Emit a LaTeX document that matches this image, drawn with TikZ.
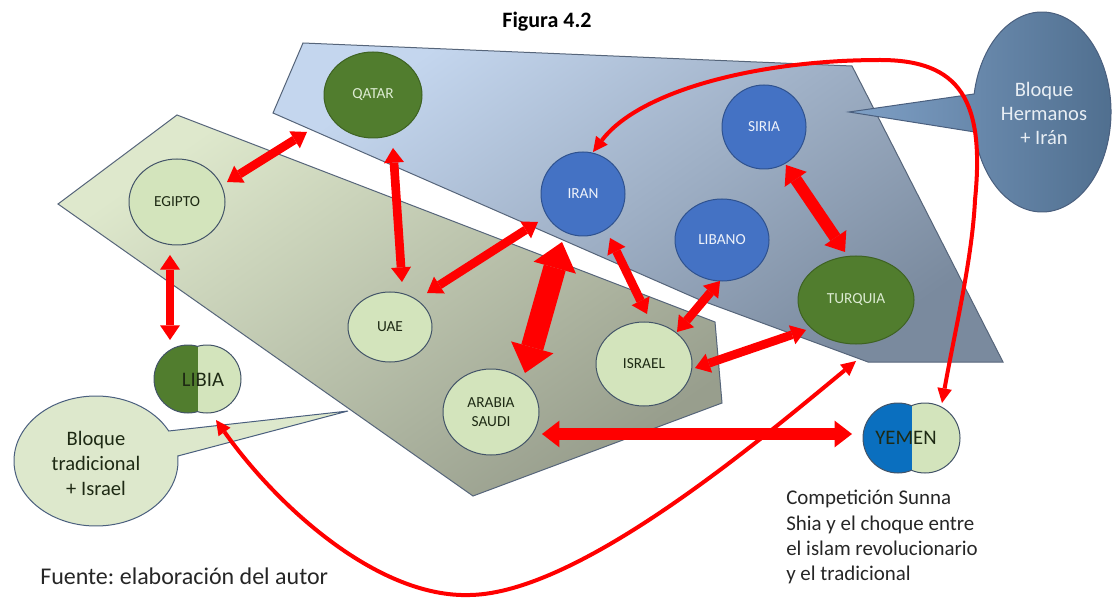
\documentclass[tikz,border=0pt]{standalone}
\usepackage{fontspec}
\setmainfont{Carlito}
\usetikzlibrary{arrows.meta,shapes.geometric}
\frenchspacing
\definecolor{dgreen}{HTML}{517D2E}
\definecolor{doutl}{HTML}{3E6222}
\definecolor{lgreen}{HTML}{D3E4BC}
\definecolor{loutl}{HTML}{435468}
\definecolor{nblue}{HTML}{4472C4}
\definecolor{boutl}{HTML}{2F528F}
\definecolor{yblue}{HTML}{0A6FBF}
\definecolor{dtext}{HTML}{1E2A14}
\definecolor{ltext}{HTML}{DCEBD2}
\definecolor{btext}{HTML}{EEF2FA}
\definecolor{arred}{HTML}{FF0000}
\definecolor{bltop}{HTML}{C4D6EE}
\definecolor{blbot}{HTML}{7A8A9E}
\definecolor{grtop}{HTML}{DEE8CC}
\definecolor{grbot}{HTML}{989E8D}
\definecolor{polyoutl}{HTML}{56657A}
\definecolor{cofill}{HTML}{DDE8CC}
\definecolor{cooutl}{HTML}{4A5F7E}
\definecolor{ctl}{HTML}{7FA0C6}
\definecolor{ctr}{HTML}{4F6E8E}
\definecolor{ctxt}{HTML}{E8EEF4}
\begin{document}
\begin{tikzpicture}[x=0.75pt,y=-0.75pt,
  cnode/.style={ellipse,inner sep=0pt,line width=0.75pt,align=center,font=\fontsize{11.5}{14.5}\selectfont},
  lightnode/.style={cnode,fill=lgreen,draw=loutl,text=dtext},
  darknode/.style={cnode,fill=dgreen,draw=doutl,text=ltext},
  bluenode/.style={cnode,fill=nblue,draw=boutl,text=btext},
  redarr/.style={draw=arred,line width=6.5pt,>={Triangle[length=11pt,width=15pt,line width=0pt]},<->},
  midarr/.style={draw=arred,line width=9pt,>={Triangle[length=13pt,width=20pt,line width=0pt]},<->},
  bigarr/.style={draw=arred,line width=17pt,>={Triangle[length=20pt,width=33pt,line width=0pt]},<->},
  curvearr/.style={draw=arred,line width=3pt,>={Triangle[length=11pt,width=11pt,line width=0pt]},<->},
  polyline/.style={draw=polyoutl,line width=0.75pt}
]
\useasboundingbox (0,0) rectangle (1112,598);

% blocks
\path[polyline,top color=bltop,bottom color=blbot,shading angle=35]
  (303,43) -- (852,66) -- (1003,362) -- (868,362) -- (700,300) -- (273,113) -- cycle;
\path[polyline,top color=grtop,bottom color=grbot,shading angle=35]
  (177,115) -- (715,322) -- (722,403) -- (473,496) -- (58,204) -- cycle;

% callouts
\path[draw=cooutl,fill=cofill,line width=0.75pt]
  (348,411) -- ([shift={(96,461)}]355.6:82 and 65)
  arc[start angle=355.6,end angle=692.5,x radius=82,y radius=65] -- cycle;
\node[align=center,font=\fontsize{15.4}{18.75}\selectfont,text=dtext] (c1) at (96,463) {Bloque\\tradicional\\+ Israel};

\path[draw=cooutl,left color=ctl,right color=ctr,line width=0.75pt]
  (849,112) -- ([shift={(1042,112)}]190.4:69 and 100)
  arc[start angle=190.4,end angle=528.5,x radius=69,y radius=100] -- cycle;
\node[align=center,font=\fontsize{15.4}{18}\selectfont,text=ctxt] (c2) at (1044,113) {Bloque\\Hermanos\\+ Irán};

% countries
\node[darknode,minimum width=73.5pt,minimum height=64.5pt] (qatar) at (373,95) {QATAR};
\node[lightnode,minimum width=72pt,minimum height=64.5pt] (egipto) at (177,202) {EGIPTO};
\node[bluenode,minimum width=63pt,minimum height=63pt] (iran) at (583,194) {IRAN};
\node[bluenode,minimum width=63pt,minimum height=63pt] (siria) at (764,127) {SIRIA};
\node[bluenode,minimum width=70.5pt,minimum height=61.5pt] (libano) at (722,240) {LIBANO};
\node[darknode,minimum width=87pt,minimum height=66pt] (turquia) at (856,300) {TURQUIA};
\node[lightnode,minimum width=63pt,minimum height=52.5pt] (uae) at (390,327) {UAE};
\node[lightnode,minimum width=72pt,minimum height=64.5pt] (arabia) at (491,412) {ARABIA\\SAUDI};
\node[lightnode,minimum width=72pt,minimum height=63pt] (israel) at (644,364) {ISRAEL};

% Libia
\begin{scope}
  \clip (140,330) rectangle (198,430);
  \path[fill=dgreen,draw=loutl,line width=0.75pt] (188,379) circle[radius=34];
\end{scope}
\begin{scope}
  \clip (198,330) rectangle (260,430);
  \path[fill=lgreen,draw=loutl,line width=0.75pt] (207,379) circle[radius=34];
\end{scope}
\node[font=\fontsize{15.5}{18}\selectfont,text=dtext] (libia) at (203,380) {LIBIA};

% Yemen
\begin{scope}
  \clip (850,390) rectangle (912,490);
  \path[fill=yblue,draw=loutl,line width=0.75pt] (898,438) circle[radius=35];
\end{scope}
\begin{scope}
  \clip (912,390) rectangle (980,490);
  \path[fill=lgreen,draw=loutl,line width=0.75pt] (925,438) circle[radius=35];
\end{scope}
\node[font=\fontsize{15.5}{18}\selectfont,text=dtext] (yemen) at (906,438) {YEMEN};

% arrow ends
\coordinate (qe1) at (307,132); \coordinate (qe2) at (227,182);
\coordinate (qu1) at (393,148); \coordinate (qu2) at (402,282);
\coordinate (el1) at (170,255); \coordinate (el2) at (170,340);
\coordinate (iu1) at (538,222); \coordinate (iu2) at (427,293);
\coordinate (ia1) at (562,242); \coordinate (ia2) at (525,373);
\coordinate (ii1) at (610,238); \coordinate (ii2) at (647,314);
\coordinate (li1) at (720,281); \coordinate (li2) at (677,332);
\coordinate (it1) at (695,368); \coordinate (it2) at (806,330);
\coordinate (st1) at (786,165); \coordinate (st2) at (845,252);
\coordinate (ay1) at (542,434); \coordinate (ay2) at (852,434);

\draw[redarr] (qe1) -- (qe2);
\draw[redarr] (qu1) -- (qu2);
\draw[redarr] (el1) -- (el2);
\draw[redarr] (iu1) -- (iu2);
\draw[bigarr] (ia1) -- (ia2);
\draw[redarr] (ii1) -- (ii2);
\draw[redarr] (li1) -- (li2);
\draw[redarr] (it1) -- (it2);
\draw[midarr] (st1) -- (st2);
\draw[midarr] (ay1) -- (ay2);

% curved arrows
\coordinate (ca1) at (593,152); \coordinate (ca2) at (942,403);
\draw[curvearr] (ca1) .. controls (640,90) and (760,60) .. (880,60)
  .. controls (960,60) and (985,100) .. (975,200)
  .. controls (972,260) and (955,330) .. (ca2);
\coordinate (cb1) at (216,420); \coordinate (cb2) at (856,361);
\draw[curvearr] (cb1) .. controls (280,510) and (380,598) .. (470,595)
  .. controls (580,593) and (760,440) .. (cb2);

% texts
\node[font=\bfseries\fontsize{16.5}{20}\selectfont,anchor=base,inner sep=0pt] (title) at (547,28) {Figura 4.2};
\node[font=\fontsize{18}{22}\selectfont,anchor=base west,inner sep=0pt,text=black!85] (fuente) at (40,584) {Fuente: elaboración del autor};
\node[font=\fontsize{15.7}{19}\selectfont,anchor=north west,align=left,inner sep=0pt,text=black!85] (comp) at (786,490) {Competición Sunna\\Shia y el choque entre\\el islam revolucionario\\y el tradicional};
\end{tikzpicture}
\end{document}
